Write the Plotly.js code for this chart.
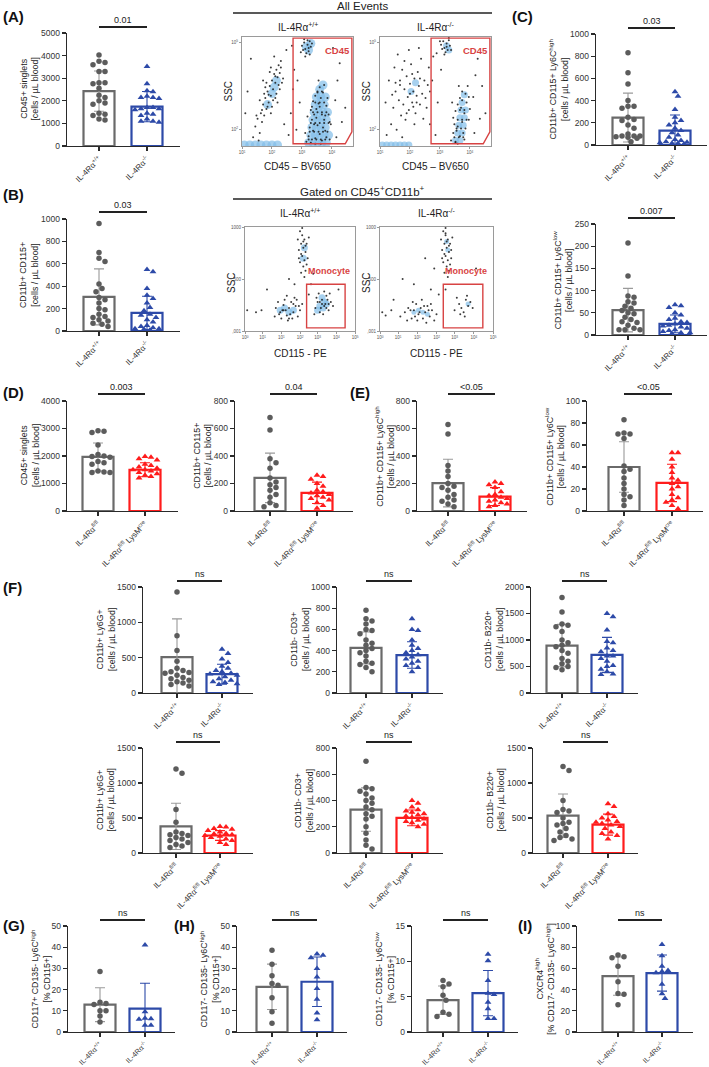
<!DOCTYPE html>
<html><head><meta charset="utf-8">
<script src="https://cdn.plot.ly/plotly-3.0.1.min.js"></script>
<style>html,body{margin:0;padding:0;background:#fff}#chart{width:709px;height:1067px}</style>
</head><body><div id="chart"></div>
<script>
// ---------------- DATA ----------------
const labKO = ['IL-4Rα<sup>+/+</sup>', 'IL-4Rα<sup>-/-</sup>'];
const labLys = ['IL-4Rα<sup>fl/fl</sup>', 'IL-4Rα<sup>fl/fl</sup> LysM<sup>cre</sup>'];

const A_wt = [4030,3750,3700,3600,3300,3300,2800,2800,2750,2550,2250,2150,2000,1900,1850,1450,1400,1350,1200,1150];
const A_ko = [3520,2750,2450,2400,2200,2150,2150,2100,1700,1700,1650,1650,1600,1450,1400,1350,1200,1100,1100,1050];
const A_mean = [2430,1740], A_sd = [890,670];

const B_wt = [960,700,650,620,420,380,350,300,280,250,200,190,150,130,120,100,90,70,60,40];
const B_ko = [550,530,380,320,290,250,210,180,150,140,120,100,80,50,40,30,20,20,15,10];
const B_mean = [305,162], B_sd = [250,148];

const C1_wt = [830,650,550,400,350,350,330,250,230,220,180,150,100,80,80,80,75,70,60,30];
const C1_ko = [480,440,320,250,220,200,180,150,130,110,90,70,50,40,30,25,20,15,15,10];
const C1_mean = [247,130], C1_sd = [220,140];

const C2_wt = [207,133,88,85,75,72,65,60,55,50,48,40,35,30,28,22,15,12,12,12];
const C2_ko = [68,66,62,50,45,38,35,30,28,25,22,20,18,15,12,10,8,5,5,3];
const C2_mean = [56,25], C2_sd = [49,20];

const D1_wt = [2920,2900,2850,2400,2050,2000,1980,1950,1800,1750,1700,1450,1420,1400,1400];
const D1_cre = [1980,1950,1900,1850,1700,1650,1600,1550,1500,1500,1450,1400,1350,1300,1250,1200];
const D1_mean = [1965,1500], D1_sd = [510,255];

const D2_wt = [680,590,380,350,310,240,210,190,170,150,120,100,60,40,30];
const D2_cre = [260,250,230,200,180,150,140,130,120,110,100,90,80,60,40,20];
const D2_mean = [241,132], D2_sd = [180,78];

const E1_wt = [630,560,330,290,250,200,180,170,150,120,100,80,70,50,30];
const E1_cre = [210,200,190,170,140,120,110,100,90,80,70,60,50,40,30];
const E1_mean = [203,105], E1_sd = [173,65];

const E2_wt = [83,71,70,70,66,41,38,36,30,25,20,15,13,10,5];
const E2_cre = [53,53,47,40,35,30,28,25,22,20,15,12,10,8,5,2];
const E2_mean = [40,25.5], E2_sd = [23,17];

const F1_wt = [1430,810,600,450,350,320,300,290,280,250,220,200,180,160,140,120,100];
const F1_ko = [620,560,480,430,380,350,320,300,280,270,250,230,200,180,160,150,130,120];
const F1_mean = [509,266], F1_sd = [540,140];

const F2_wt = [780,700,680,650,600,590,560,500,470,450,420,400,380,350,300,280,270,240,200];
const F2_ko = [700,600,590,500,450,420,400,380,360,340,320,300,280,260,240,200];
const F2_mean = [425,358], F2_sd = [150,125];

const F3_wt = [1800,1530,1300,1280,1250,1160,1000,950,900,875,800,750,650,600,550,500,480,440];
const F3_ko = [1500,1440,1190,970,950,850,800,780,700,700,650,600,520,500,450,400,360,350];
const F3_mean = [894,719], F3_sd = [400,330];

const F4_wt = [1200,1140,620,440,300,280,260,250,220,200,180,150,120,100,80];
const F4_cre = [380,370,350,340,320,300,280,270,260,250,240,220,200,180,150,120];
const F4_mean = [381,250], F4_sd = [330,70];

const F5_wt = [700,500,490,470,450,420,400,380,350,330,300,280,260,200,150,100,60,30];
const F5_cre = [400,380,350,330,320,310,300,290,280,270,260,250,240,230,220,200];
const F5_mean = [331,268], F5_sd = [165,60];

const F6_wt = [1235,1180,750,620,600,580,500,440,420,400,350,300,250,220,200,180];
const F6_cre = [705,665,560,520,500,470,450,440,420,400,380,350,300,280,250,200];
const F6_mean = [533,405], F6_sd = [310,150];

const G_wt = [28.5,14,13.5,13,10,10,7.5,4.7];
const G_ko = [41,9.5,6.5,6.2,6,3.2,3.2];
const G_mean = [12.9,11], G_sd = [8,12];

const H1_wt = [38.6,31.9,26.5,22.9,22.1,16.1,9.5,4.1];
const H1_ko = [36.8,36.2,35,30,26,20.5,15.5,9,5.8];
const H1_mean = [21.3,23.7], H1_sd = [10.7,11.7];

const H2_wt = [7.3,6.8,6.4,5.2,4.5,2.8,2.5,2.2];
const H2_ko = [11,10.1,7.3,5.5,5.3,4.2,3.3,1.9,1.9];
const H2_mean = [4.5,5.5], H2_sd = [2,3.2];

const I_wt = [72.6,71,70,62,47.3,36.3,35.5,25.6];
const I_ko = [82.6,72,62,58,57,56,45,36,31.5];
const I_mean = [52.7,55.6], I_sd = [18,17];

const sigTexts = ['0.01','0.03','0.03','0.007','0.003','0.04','<0.05','<0.05','ns','ns','ns','ns','ns','ns','ns','ns','ns','ns'];
const yTitles = [
 'CD45+ singlets<br>[cells / µL blood]',
 'CD11b+ CD115+<br>[cells / µL blood]',
 'CD11b+ CD115+ Ly6C<sup>high</sup><br>[cells / µL blood]',
 'CD11b+ CD115+ Ly6C<sup>low</sup><br>[cells / µL blood]',
 'CD45+ singlets<br>[cells / µL blood]',
 'CD11b+ CD115+<br>[cells / µL blood]',
 'CD11b+ CD115+ Ly6C<sup>high</sup><br>[cells / µL blood]',
 'CD11b+ CD115+ Ly6C<sup>low</sup><br>[cells / µL blood]',
 'CD11b+ Ly6G+<br>[cells / µL blood]',
 'CD11b- CD3+<br>[cells / µL blood]',
 'CD11b- B220+<br>[cells / µL blood]',
 'CD11b+ Ly6G+<br>[cells / µL blood]',
 'CD11b- CD3+<br>[cells / µL blood]',
 'CD11b- B220+<br>[cells / µL blood]',
 'CD117+ CD135- Ly6C<sup>high</sup><br>[% CD115+]',
 'CD117- CD135- Ly6C<sup>high</sup><br>[% CD115+]',
 'CD117- CD135- Ly6C<sup>low</sup><br>[% CD115+]',
 'CXCR4<sup>high</sup><br>[% CD117- CD135- Ly6C<sup>high</sup>]'
];

// Flow cytometry dot plots (values in % of axis range)
const flowAllWT_x = [12,14,16,17,18,19,20,21,22,23,24,25,26,27,28,29,30,31,32,33,34,35,20,16,27,31,37,25,10,15,29,22,33,26,35,30,
 18,21,24,28,30,34,13,19,26,32,23,36,
 54,56,57,59,60,61,58,62,55,59,63,57,60,53,56,61,
 58,60,62,64,66,68,70,63,65,67,69,71,73,72,74,76,61,59,68,70,64,75,77,66,72,78,62,66,74,69,80,57,71,76,65,67,73,70,
 60,63,67,71,75,79,61,65,69,73,77,62,66,70,74,78,64,68,72,76,66,70,74,68,72,63,75,79,
 44,47,86,90,5,40,49,88,8,42,84,46,3,38,82,50,52,85,93,45];
const flowAllWT_y = [18,25,12,30,22,38,28,44,34,50,40,55,46,60,52,66,58,70,63,74,67,78,48,42,36,48,62,68,8,5,82,58,56,30,72,44,
 33,54,47,42,64,52,28,60,72,40,36,58,
 92,95,89,93,87,96,85,91,88,97,94,82,90,86,98,84,
 4,9,3,14,7,19,11,24,29,34,39,44,49,29,24,37,17,27,49,54,41,14,44,2,5,29,33,46,56,60,20,12,2,8,20,26,17,36,
 6,6,6,6,6,6,13,13,13,13,13,21,21,21,21,21,31,31,31,31,40,40,40,50,50,36,28,22,
 30,70,60,22,50,88,15,76,80,10,42,52,30,20,90,60,40,8,35,92];
const flowAllWT_bx = [60,64,68,72,76,62,66,70,74,78,63,67,71,75,64,68,72,76,65,69,73,77,66,70,74,67,71,75,70,73,
 27,31,23,29,58,60,62,2,7,12,17,22,27,32];
const flowAllWT_by = [3,3,3,3,3,10,10,10,10,10,17,17,17,17,24,24,24,24,31,31,31,31,38,38,38,45,45,45,52,56,
 48,60,38,54,91,88,94,1,1,1,1,1,1,1];

const flowAllKO_x = [10,12,14,15,17,18,19,20,21,22,23,24,25,26,27,28,29,30,31,32,33,34,35,36,37,38,40,42,44,16,8,6,26,13,31,39,45,5,20,35,
 11,24,29,33,18,27,36,41,22,14,30,43,
 55,57,58,60,61,62,59,63,56,60,54,64,58,62,
 64,66,68,70,72,74,66,68,70,72,74,76,78,80,69,73,75,77,71,67,79,65,81,70,76,
 67,71,75,69,73,77,70,74,78,72,76,74,68,80,
 45,48,86,90,52,50,88,84,92,47,85,55,95,51];
const flowAllKO_y = [20,35,50,15,42,60,28,70,38,52,24,64,45,33,57,75,40,50,62,30,46,68,55,38,80,48,60,35,72,84,60,10,88,72,20,25,50,40,8,90,
 47,30,66,40,56,48,62,44,78,58,36,56,
 93,96,90,94,88,97,86,92,89,91,96,88,84,99,
 5,12,4,18,9,22,26,32,38,44,50,30,40,24,14,35,12,48,55,20,55,40,34,2,6,
 8,8,8,16,16,16,24,24,24,33,33,42,3,45,
 20,82,65,25,40,10,80,45,55,60,12,70,30,85];
const flowAllKO_bx = [68,72,70,74,71,75,72,76,73,77,74,76,60,62,28,32,2,6,10,14,18,22,26];
const flowAllKO_by = [5,5,12,12,19,19,26,26,33,33,40,47,92,88,50,58,1,1,1,1,1,1,1];

const flowGateWT_x = [50,52,54,51,53,55,49,56,52,54,50,57,53,55,51,48,58,52,56,54,49,53,51,55,
 28,32,35,38,40,42,44,46,48,36,33,30,39,45,50,41,37,34,47,52,27,43,49,38,31,35,44,40,
 64,66,68,70,72,74,76,78,67,71,73,75,69,65,77,80,63,72,70,74,68,76,
 20,15,60,45,58,85,2,62,10,40];
const flowGateWT_y = [96,92,88,84,80,76,78,84,72,68,66,70,62,58,56,88,90,99,64,52,70,86,74,82,
 22,18,25,15,22,28,18,24,14,30,12,28,10,32,20,16,20,20,30,26,14,12,24,34,16,20,26,12,
 22,28,18,30,24,34,20,28,36,16,26,30,22,32,36,24,16,38,26,22,28,26,
 40,20,45,45,35,40,20,55,18,50];
const flowGateWT_bx = [68,72,70,74,66,71,40,36,44,32,53,54];
const flowGateWT_by = [24,28,32,26,20,22,18,22,20,20,70,80];

const flowGateKO_x = [56,58,60,57,59,61,55,62,58,60,56,63,59,61,57,54,64,58,62,60,55,59,63,57,61,58,
 18,22,25,28,30,32,34,36,38,40,42,44,46,48,33,29,37,41,45,50,24,35,39,31,27,43,
 66,70,74,76,78,72,80,68,75,82,71,77,
 10,5,58,45,20,48,30,85,40,52,2,12];
const flowGateKO_y = [96,92,88,84,80,76,78,84,72,68,66,70,62,58,56,88,90,99,64,52,70,86,78,74,82,94,
 14,18,22,12,20,26,16,22,12,18,24,14,20,10,10,28,30,8,26,16,10,18,24,14,20,20,
 20,26,18,30,24,22,28,32,14,22,16,34,
 20,15,40,40,50,60,45,60,70,35,18,30];
const flowGateKO_bx = [38,34,42,30,78,60,59];
const flowGateKO_by = [18,20,16,18,26,78,86];

const gateCD45_x = [46,99,99,93,46];
const gateCD45_y = [99,99,13,2,2];
const gateMono_x = [56,91,91,56];
const gateMono_y = [45,45,3,3];

// ---------------- LAYOUT HELPERS ----------------
const W = 709, H = 1067;
const px = x => x / W, py = y => 1 - y / H;
const FONT = 'Liberation Sans, Arial, sans-serif';
const GRAY = '#6a6a6a', GRAYPT = '#5c5c5c', GRAYERR = '#9a9a9a';
const BLUE = '#2d4aa8', RED = '#ff1c1c';

const P = [
 {wt:A_wt, ko:A_ko, m:A_mean, s:A_sd, lab:labKO, c:'b', L:67,R:180,c0:99,c1:147,T:33,B:146,ymax:5000,dt:1000,sy:27},
 {wt:B_wt, ko:B_ko, m:B_mean, s:B_sd, lab:labKO, c:'b', L:67,R:180,c0:99,c1:147,T:219,B:331,ymax:1000,dt:200,sy:212},
 {wt:C1_wt, ko:C1_ko, m:C1_mean, s:C1_sd, lab:labKO, c:'b', L:596,R:707,c0:628,c1:675,T:34,B:145,ymax:1000,dt:200,sy:28},
 {wt:C2_wt, ko:C2_ko, m:C2_mean, s:C2_sd, lab:labKO, c:'b', L:596,R:707,c0:628,c1:675,T:224,B:335,ymax:250,dt:50,sy:218},
 {wt:D1_wt, ko:D1_cre, m:D1_mean, s:D1_sd, lab:labLys, c:'r', L:67,R:178,c0:98,c1:145,T:401,B:511,ymax:4000,dt:1000,sy:394},
 {wt:D2_wt, ko:D2_cre, m:D2_mean, s:D2_sd, lab:labLys, c:'r', L:235,R:353,c0:270,c1:317,T:401,B:511,ymax:800,dt:200,sy:394},
 {wt:E1_wt, ko:E1_cre, m:E1_mean, s:E1_sd, lab:labLys, c:'r', L:417,R:527,c0:448,c1:495,T:401,B:511,ymax:800,dt:200,sy:394},
 {wt:E2_wt, ko:E2_cre, m:E2_mean, s:E2_sd, lab:labLys, c:'r', L:587,R:703,c0:624,c1:672,T:401,B:511,ymax:100,dt:20,sy:394},
 {wt:F1_wt, ko:F1_ko, m:F1_mean, s:F1_sd, lab:labKO, c:'b', L:143,R:253,c0:177,c1:222,T:587,B:693,ymax:1500,dt:500,sy:581},
 {wt:F2_wt, ko:F2_ko, m:F2_mean, s:F2_sd, lab:labKO, c:'b', L:337,R:443,c0:366,c1:412,T:587,B:693,ymax:1000,dt:200,sy:581},
 {wt:F3_wt, ko:F3_ko, m:F3_mean, s:F3_sd, lab:labKO, c:'b', L:531,R:638,c0:562,c1:607,T:587,B:693,ymax:2000,dt:500,sy:581},
 {wt:F4_wt, ko:F4_cre, m:F4_mean, s:F4_sd, lab:labLys, c:'r', L:143,R:253,c0:176,c1:220,T:748,B:853,ymax:1500,dt:500,sy:742},
 {wt:F5_wt, ko:F5_cre, m:F5_mean, s:F5_sd, lab:labLys, c:'r', L:337,R:443,c0:366,c1:412,T:748,B:853,ymax:800,dt:200,sy:742},
 {wt:F6_wt, ko:F6_cre, m:F6_mean, s:F6_sd, lab:labLys, c:'r', L:533,R:638,c0:563,c1:608,T:748,B:853,ymax:1500,dt:500,sy:742},
 {wt:G_wt, ko:G_ko, m:G_mean, s:G_sd, lab:labKO, c:'b', L:68,R:175,c0:100,c1:145,T:926,B:1032,ymax:50,dt:10,sy:920},
 {wt:H1_wt, ko:H1_ko, m:H1_mean, s:H1_sd, lab:labKO, c:'b', L:237,R:347,c0:272,c1:317,T:926,B:1032,ymax:50,dt:10,sy:920},
 {wt:H2_wt, ko:H2_ko, m:H2_mean, s:H2_sd, lab:labKO, c:'b', L:412,R:518,c0:443,c1:488,T:926,B:1032,ymax:15,dt:5,sy:920},
 {wt:I_wt, ko:I_ko, m:I_mean, s:I_sd, lab:labKO, c:'b', L:577,R:693,c0:618,c1:662,T:926,B:1032,ymax:100,dt:20,sy:920}
];

// simple beeswarm limited to maxOff px: returns horizontal offsets in px
function swarm(vals, pxPerUnit, d, step, maxOff) {
  const placed = [], out = new Array(vals.length);
  const idx = vals.map((v,i)=>i).sort((a,b)=>vals[b]-vals[a]);
  for (const i of idx) {
    const y = vals[i]*pxPerUnit;
    let best = 0, bestD = -1;
    for (let k=0;k<60;k++) {
      const off = k===0 ? 0 : (k%2 ? 1 : -1)*Math.ceil(k/2)*step;
      if (Math.abs(off) > maxOff) break;
      const md = placed.length ? Math.min(...placed.map(p => Math.hypot(p[0]-off, p[1]-y))) : 1e9;
      if (md >= d) { best = off; bestD = md; break; }
      if (md > bestD) { bestD = md; best = off; }
    }
    placed.push([best,y]); out[i] = best;
  }
  return out;
}

const traces = [], shapes = [], annotations = [];
const layout = {
  width: W, height: H, margin:{l:0,r:0,t:0,b:0}, paper_bgcolor:'#fff', plot_bgcolor:'rgba(0,0,0,0)',
  showlegend:false, barmode:'overlay', font:{family:FONT, color:'#222'}
};
const ax = n => n===1 ? '' : String(n);

P.forEach((p, i) => {
  const n = i+1, xa = 'x'+ax(n), ya = 'y'+ax(n);
  const unit = p.c1 - p.c0;
  const x0 = (p.L - p.c0)/unit, x1 = 1 + (p.R - p.c1)/unit;
  const tickFont = 8.5;
  const xFont = p.B > 1000 ? 7.2 : 8;
  layout['xaxis'+ax(n)] = {domain:[px(p.L), px(p.R)], range:[x0,x1], anchor:ya, tickvals:[0,1], ticktext:p.lab,
    tickangle:-45, showline:true, linecolor:'#2a2a2a', linewidth:1.4, ticks:'outside', ticklen:4, tickwidth:1.2, tickcolor:'#2a2a2a',
    showgrid:false, zeroline:false, tickfont:{size:xFont, family:FONT, color:'#333'}, fixedrange:true};
  layout['yaxis'+ax(n)] = {domain:[py(p.B), py(p.T)], range:[0,p.ymax], anchor:xa, dtick:p.dt, tick0:0,
    showline:true, linecolor:'#2a2a2a', linewidth:1.4, ticks:'outside', ticklen:4, tickwidth:1.2, tickcolor:'#2a2a2a',
    showgrid:false, zeroline:false, tickfont:{size:tickFont, family:FONT, color:'#333'}, fixedrange:true};
  const alt = p.c==='b' ? BLUE : RED;
  const cols = [GRAY, alt], ptcols = [GRAYPT, alt], errcols = [GRAYERR, alt];
  const bw = 31/unit;
  [0,1].forEach(g => {
    traces.push({type:'bar', x:[g], y:[p.m[g]], width:bw, xaxis:xa, yaxis:ya, hoverinfo:'skip',
      marker:{color:'rgba(255,255,255,0)', line:{color:cols[g], width:2.2}},
      error_y:{type:'data', array:[p.s[g]], visible:true, color:errcols[g], thickness:1.1, width:5}});
  });
  const ppu = (p.B - p.T)/p.ymax;
  [p.wt, p.ko].forEach((vals, g) => {
    const offs = swarm(vals, ppu, 5.2, 3, 15);
    traces.push({type:'scatter', mode:'markers', x: offs.map(o => g + o/unit), y: vals, xaxis:xa, yaxis:ya,
      cliponaxis:false, hoverinfo:'skip',
      marker:{symbol: g===0 ? 'circle' : 'triangle-up', size: g===0 ? 5.5 : 6, color: ptcols[g], line:{width:0}}});
  });
  shapes.push({type:'line', xref:xa, yref:'paper', x0:0, x1:1, y0:py(p.sy), y1:py(p.sy), line:{color:'#222', width:1.8}});
  annotations.push({xref:xa, yref:'paper', x:0.5, y:py(p.sy-7), text:sigTexts[i], showarrow:false,
    font:{size:9, family:FONT, color:'#222'}, xanchor:'center', yanchor:'middle'});
  const lw = String(p.ymax).length*0.556*tickFont;
  annotations.push({xref:'paper', yref:'paper', x:px(p.L - 6 - lw - 13), y:py((p.T+p.B)/2), text:yTitles[i],
    textangle:-90, showarrow:false, font:{size:8.8, family:FONT, color:'#222'}, xanchor:'center', yanchor:'middle'});
});

// ---------------- FLOW PLOTS ----------------
const flows = [
 {x:flowAllWT_x, y:flowAllWT_y, bx:flowAllWT_bx, by:flowAllWT_by, L:242,R:353,T:37,B:146, kind:'all', blob:9},
 {x:flowAllKO_x, y:flowAllKO_y, bx:flowAllKO_bx, by:flowAllKO_by, L:380,R:491,T:37,B:146, kind:'all', blob:7},
 {x:flowGateWT_x, y:flowGateWT_y, bx:flowGateWT_bx, by:flowGateWT_by, L:245,R:355,T:227,B:331, kind:'gate', blob:7},
 {x:flowGateKO_x, y:flowGateKO_y, bx:flowGateKO_bx, by:flowGateKO_by, L:380,R:493,T:227,B:331, kind:'gate', blob:5}
];
const GATE = '#d84343';
flows.forEach((f, j) => {
  const n = P.length + 1 + j, xa = 'x'+ax(n), ya = 'y'+ax(n);
  const all = f.kind==='all';
  layout['xaxis'+ax(n)] = {domain:[px(f.L), px(f.R)], range:[0,100], anchor:ya, showline:true, mirror:true, linecolor:'#9a9a9a', linewidth:1,
    showgrid:false, zeroline:false, ticks:'outside', ticklen:2, tickcolor:'#999',
    tickvals: all ? [0,27,54,81] : [0,16,33,50,66,83,100],
    ticktext: all ? ['10<sup>1</sup>','10<sup>2</sup>','10<sup>3</sup>','10<sup>4</sup>'] : ['10<sup>0</sup>','10<sup>1</sup>','10<sup>1</sup>','10<sup>2</sup>','10<sup>3</sup>','10<sup>4</sup>','10<sup>5</sup>'],
    tickfont:{size:4.5, color:'#555'}, fixedrange:true};
  layout['yaxis'+ax(n)] = {domain:[py(f.B), py(f.T)], range:[0,100], anchor:xa, showline:true, mirror:true, linecolor:'#9a9a9a', linewidth:1,
    showgrid:false, zeroline:false, ticks:'outside', ticklen:2, tickcolor:'#999',
    tickvals: all ? [15,95] : [0,50,100], ticktext: all ? ['10<sup>2</sup>','10<sup>5</sup>'] : [',001','500','1000'],
    tickfont:{size:4.5, color:'#555'}, fixedrange:true};
  traces.push({type:'scatter', mode:'markers', x:f.bx, y:f.by, xaxis:xa, yaxis:ya, hoverinfo:'skip', cliponaxis:true,
    marker:{size:f.blob, color:'#82bde8', opacity:0.7, line:{width:0}}});
  traces.push({type:'scatter', mode:'markers', x:f.x, y:f.y, xaxis:xa, yaxis:ya, hoverinfo:'skip', cliponaxis:true,
    marker:{size:2, color:'#1a1a1a', opacity:0.85, line:{width:0}}});
  const gx = all ? gateCD45_x : gateMono_x, gy = all ? gateCD45_y : gateMono_y;
  const path = 'M ' + gx.map((v,k)=>v+','+gy[k]).join(' L ') + ' Z';
  shapes.push({type:'path', xref:xa, yref:ya, path:path, line:{color:GATE, width:1.4}});
  annotations.push({xref:xa, yref:ya, x: all ? 86 : 76, y: all ? 88 : 58, text: all ? '<b>CD45</b>' : '<b>Monocyte</b>',
    showarrow:false, font:{size: all ? 9.5 : 9, color:GATE, family:FONT}, xanchor:'center', yanchor:'middle'});
  const cx = (f.L+f.R)/2;
  annotations.push({xref:'paper', yref:'paper', x:px(cx), y:py(f.T - (all?10:14)), text: j%2===0 ? 'IL-4Rα<sup>+/+</sup>' : 'IL-4Rα<sup>-/-</sup>',
    showarrow:false, font:{size:10, family:FONT, color:'#222'}, xanchor:'center', yanchor:'middle'});
  annotations.push({xref:'paper', yref:'paper', x:px(cx), y:py(all ? 167 : 353), text: all ? 'CD45 – BV650' : 'CD115 - PE',
    showarrow:false, font:{size:10, family:FONT, color:'#222'}, xanchor:'center', yanchor:'middle'});
  annotations.push({xref:'paper', yref:'paper', x:px(f.L - 14), y:py((f.T+f.B)/2 + (all?0:4)), text:'SSC', textangle:-90,
    showarrow:false, font:{size:10, family:FONT, color:'#222'}, xanchor:'center', yanchor:'middle'});
});

[['All Events',6,13],['Gated on CD45<sup>+</sup>CD11b<sup>+</sup>',191,199]].forEach(h => {
  annotations.push({xref:'paper', yref:'paper', x:px(362), y:py(h[1]), text:h[0], showarrow:false,
    font:{size:11.5, family:FONT, color:'#222'}, xanchor:'center', yanchor:'middle'});
  shapes.push({type:'line', xref:'paper', yref:'paper', x0:px(233), x1:px(492), y0:py(h[2]), y1:py(h[2]), line:{color:'#222', width:1.5}});
});

[['(A)',1,17],['(B)',1,195],['(C)',510,17],['(D)',1,392],['(E)',348,392],['(F)',1,587],['(G)',1,925],['(H)',172,925],['(I)',516,925]].forEach(l => {
  annotations.push({xref:'paper', yref:'paper', x:px(l[1]), y:py(l[2]), text:'<b>'+l[0]+'</b>', showarrow:false,
    font:{size:15, family:FONT, color:'#111'}, xanchor:'left', yanchor:'middle'});
});

layout.shapes = shapes;
layout.annotations = annotations;
Plotly.newPlot('chart', traces, layout, {staticPlot:true, displayModeBar:false});
</script>
</body></html>
